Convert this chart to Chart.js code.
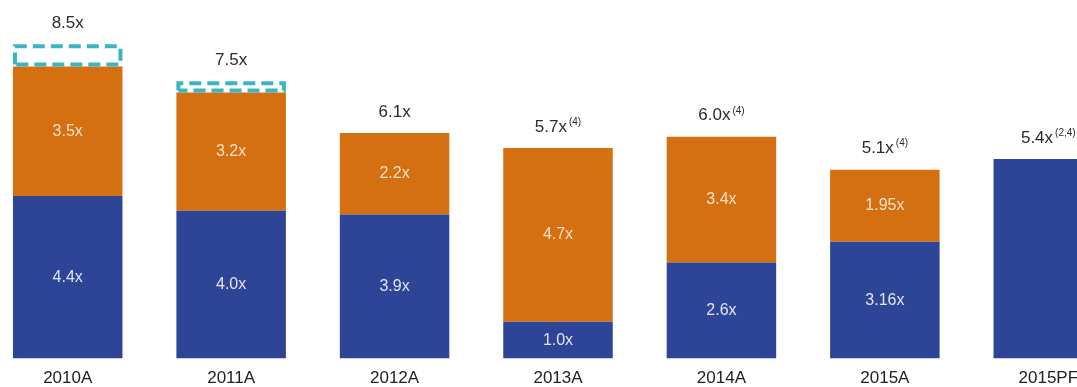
<!DOCTYPE html>
<html>
<head>
<meta charset="utf-8">
<script src="https://cdn.jsdelivr.net/npm/chart.js@4.4.1/dist/chart.umd.min.js"></script>
<style>
  html, body { margin: 0; padding: 0; background: #ffffff; overflow: hidden; }
  #wrap { position: absolute; left: -14px; top: 0; width: 1144px; height: 399px; }
</style>
</head>
<body>
<div id="wrap"><canvas id="c" width="1144" height="399"></canvas></div>
<script>
// Leverage multiples by year
const categories = ["2010A", "2011A", "2012A", "2013A", "2014A", "2015A", "2015PF"];
const lowerValues = [4.4, 4.0, 3.9, 1.0, 2.6, 3.16, 5.4];
const upperValues = [3.5, 3.2, 2.2, 4.7, 3.4, 1.95, 0];
const outlineValues = [0.6, 0.3, 0, 0, 0, 0, 0];
const totalNotes = ["", "", "", "(4)", "(4)", "(4)", "(2,4)"];

const BLUE = "#2E4597";
const ORANGE = "#D47012";
const TEAL = "#3BB4C4";
const FONT = "'Liberation Sans', Arial, sans-serif";

function fmt(v) {
  const one = Math.abs(v * 10 - Math.round(v * 10)) < 1e-9;
  return (one ? v.toFixed(1) : v.toFixed(2)) + "x";
}

const labelPlugin = {
  id: "barLabels",
  afterDatasetsDraw(chart) {
    const ctx = chart.ctx;
    const metas = [0, 1, 2].map(i => chart.getDatasetMeta(i));
    ctx.save();

    // dashed outline segments
    metas[2].data.forEach((el, i) => {
      if (!outlineValues[i]) return;
      const lw = 4;
      const left = el.x - el.width / 2 + lw / 2;
      const right = el.x + el.width / 2 - lw / 2;
      const top = el.y + lw / 2;
      const bottom = el.base - lw / 2;
      ctx.strokeStyle = TEAL;
      ctx.lineWidth = lw;
      ctx.setLineDash([12, 6]);
      ctx.beginPath();
      ctx.moveTo(left, bottom);
      ctx.lineTo(left, top);
      ctx.lineTo(right, top);
      ctx.lineTo(right, bottom);
      ctx.lineTo(left, bottom);
      ctx.stroke();
    });
    ctx.setLineDash([]);

    // values inside the segments
    ctx.textAlign = "center";
    ctx.textBaseline = "middle";
    ctx.font = "16px " + FONT;
    [0, 1].forEach(d => {
      const vals = chart.data.datasets[d].data;
      metas[d].data.forEach((el, i) => {
        const v = vals[i];
        if (!v || !upperValues[i]) return;
        ctx.fillStyle = d === 0 ? "rgba(235,238,248,0.95)" : "rgba(252,232,210,0.95)";
        ctx.fillText(fmt(v), el.x, (el.y + el.base) / 2);
      });
    });

    // totals above each bar
    categories.forEach((c, i) => {
      let topY = Infinity;
      let total = 0;
      [0, 1, 2].forEach(d => {
        const v = chart.data.datasets[d].data[i];
        if (v) {
          total += v;
          topY = Math.min(topY, metas[d].data[i].y);
        }
      });
      const x = metas[0].data[i].x;
      const main = total.toFixed(1) + "x";
      const note = totalNotes[i];
      ctx.font = "17px " + FONT;
      const wMain = ctx.measureText(main).width;
      ctx.font = "10px " + FONT;
      const wNote = note ? ctx.measureText(note).width + 2 : 0;
      const startX = x - (wMain + wNote) / 2;
      const y = topY - 21;
      ctx.fillStyle = "#2b2b2b";
      ctx.textAlign = "left";
      ctx.font = "17px " + FONT;
      ctx.fillText(main, startX, y);
      if (note) {
        ctx.font = "10px " + FONT;
        ctx.fillText(note, startX + wMain + 2, y - 5);
      }
    });
    ctx.restore();
  }
};

new Chart(document.getElementById("c"), {
  type: "bar",
  data: {
    labels: categories,
    datasets: [
      { label: "lower", data: lowerValues, backgroundColor: BLUE },
      { label: "upper", data: upperValues, backgroundColor: ORANGE },
      { label: "outline", data: outlineValues, backgroundColor: "rgba(0,0,0,0)" }
    ]
  },
  options: {
    responsive: false,
    devicePixelRatio: 1,
    animation: false,
    layout: { padding: 0 },
    datasets: {
      bar: { categoryPercentage: 1, barPercentage: 0.67, borderWidth: 0 }
    },
    plugins: {
      legend: { display: false },
      tooltip: { enabled: false }
    },
    scales: {
      x: {
        stacked: true,
        grid: { display: false, drawTicks: false },
        border: { display: false },
        ticks: { color: "#222", font: { family: FONT, size: 17 }, padding: 10 }
      },
      y: {
        stacked: true,
        display: false,
        min: 0,
        max: 9.7
      }
    }
  },
  plugins: [labelPlugin]
});
</script>
</body>
</html>
